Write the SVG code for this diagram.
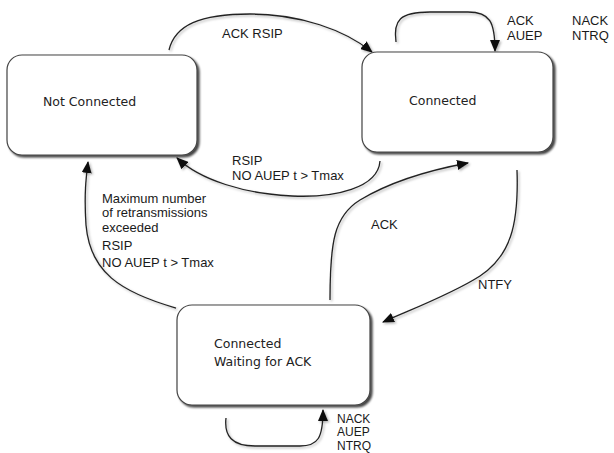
<svg xmlns="http://www.w3.org/2000/svg" width="614" height="453" viewBox="0 0 614 453">
  <defs>
    <filter id="boxShadow" x="-10%" y="-10%" width="130%" height="130%">
      <feDropShadow dx="2" dy="2" stdDeviation="1" flood-color="#000" flood-opacity="0.75"/>
    </filter>
    <filter id="lineShadow" x="-10%" y="-10%" width="130%" height="130%">
      <feDropShadow dx="1.5" dy="1.5" stdDeviation="1" flood-color="#000" flood-opacity="0.3"/>
    </filter>
    <marker id="arrow" viewBox="0 0 12 10" refX="11" refY="5" markerWidth="12" markerHeight="10" markerUnits="userSpaceOnUse" orient="auto">
      <path d="M0,0 L12,5 L0,10 z" fill="#111"/>
    </marker>
  </defs>
  <style>
    .box { fill: #ffffff; stroke: #444; stroke-width: 1.2; filter: url(#boxShadow); }
    .nodeLabel { font-family: "DejaVu Sans", "Liberation Sans", sans-serif; font-size: 12.5px; fill: #222; }
    .edge { fill: none; stroke: #222; stroke-width: 1.3; marker-end: url(#arrow); }
    .edgeLabel { font-family: "Liberation Sans", Arial, sans-serif; font-size: 13px; fill: #1a1a1a; }
    .small { font-size: 12px; }
  </style>
  <rect width="614" height="453" fill="#ffffff"/>

  <g id="connectors" filter="url(#lineShadow)">
    <!-- Not Connected -> Connected : ACK RSIP -->
    <path class="edge" d="M169,50 C175,25 200,14 250,14 C300,14 345,30 372,52"/>
    <!-- Connected self loop -->
    <path class="edge" d="M396,42 C393,20 400,12 430,12 L468,12 C490,12 495,22 495,51"/>
    <!-- Connected -> Not Connected : RSIP / NO AUEP -->
    <path class="edge" d="M380,161 C378,188 335,198 292,196 C245,194 200,180 177,158"/>
    <!-- Waiting -> Connected : ACK -->
    <path class="edge" d="M330,300 C330,242 334,216 360,200 C390,182 430,170 468,163"/>
    <!-- Connected -> Waiting : NTFY -->
    <path class="edge" d="M517,170 C519,226 510,256 480,276 C452,294 412,309 383,322"/>
    <!-- Waiting -> Not Connected -->
    <path class="edge" d="M176,308 C120,292 90,272 86,225 C84,195 86,178 88,162"/>
    <!-- Waiting self loop -->
    <path class="edge" d="M226,418 C224,436 232,446 255,446 L300,446 C318,446 323,438 323,410"/>
  </g>

  <g id="node-not-connected">
    <rect class="box" x="7" y="55" width="190" height="100" rx="15" ry="15"/>
    <text class="nodeLabel" x="43" y="106">Not Connected</text>
  </g>

  <g id="node-connected">
    <rect class="box" x="362" y="52" width="191" height="100" rx="15" ry="15"/>
    <text class="nodeLabel" x="409" y="105">Connected</text>
  </g>

  <g id="node-waiting">
    <rect class="box" x="177" y="305" width="193" height="100" rx="15" ry="15"/>
    <text class="nodeLabel" x="214" y="348">Connected</text>
    <text class="nodeLabel" x="214" y="366">Waiting for ACK</text>
  </g>

  <g id="edge-labels">
    <text class="edgeLabel" x="222" y="38">ACK RSIP</text>
    <text class="edgeLabel" x="507" y="25">ACK</text>
    <text class="edgeLabel" x="507" y="40">AUEP</text>
    <text class="edgeLabel" x="572" y="25">NACK</text>
    <text class="edgeLabel" x="572" y="40">NTRQ</text>
    <text class="edgeLabel" x="232" y="165">RSIP</text>
    <text class="edgeLabel" x="232" y="180">NO AUEP t &gt; Tmax</text>
    <text class="edgeLabel" x="102" y="203">Maximum number</text>
    <text class="edgeLabel" x="102" y="217">of retransmissions</text>
    <text class="edgeLabel" x="102" y="232">exceeded</text>
    <text class="edgeLabel" x="102" y="250">RSIP</text>
    <text class="edgeLabel" x="102" y="267">NO AUEP t &gt; Tmax</text>
    <text class="edgeLabel" x="371" y="229">ACK</text>
    <text class="edgeLabel" x="478" y="289">NTFY</text>
    <text class="edgeLabel small" x="337" y="422.5">NACK</text>
    <text class="edgeLabel small" x="337" y="436">AUEP</text>
    <text class="edgeLabel small" x="337" y="449.5">NTRQ</text>
  </g>
</svg>
